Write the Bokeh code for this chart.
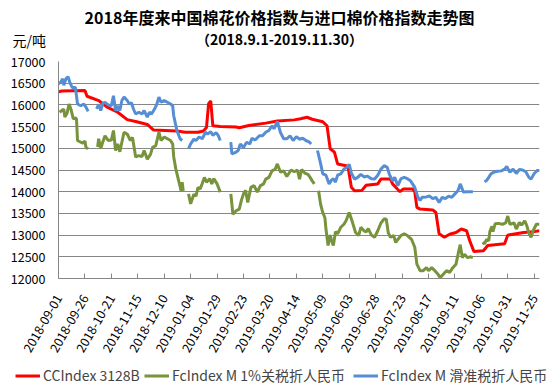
import math
from bokeh.plotting import figure
from bokeh.layouts import column
from bokeh.models import Range1d, Label, Legend, LegendItem, FixedTicker
from bokeh.embed import file_html
from bokeh.resources import INLINE

NaN = float("nan")

# x = days since 2018-09-01 (daily category axis)
tick_days = [0, 25, 50, 75, 100, 125, 150, 175, 200, 225, 250, 275, 300, 325, 350, 375, 400, 425, 450]
tick_labels = ["2018-09-01", "2018-09-26", "2018-10-21", "2018-11-15", "2018-12-10", "2019-01-04",
               "2019-01-29", "2019-02-23", "2019-03-20", "2019-04-14", "2019-05-09", "2019-06-03",
               "2019-06-28", "2019-07-23", "2019-08-17", "2019-09-11", "2019-10-06", "2019-10-31",
               "2019-11-25"]
y_ticks = [12000, 12500, 13000, 13500, 14000, 14500, 15000, 15500, 16000, 16500, 17000]

red_days = [0, 3, 25, 27, 38, 46, 56, 65, 74, 84, 90, 112, 120, 132, 137, 140, 142, 144, 146, 153,
            168, 171, 180, 196, 207, 223, 229, 235, 240, 250, 254, 257, 261, 264, 272, 274, 277, 280,
            287, 291, 302, 305, 314, 316, 321, 323, 326, 335, 337, 339, 342, 354, 357, 360, 365, 370,
            376, 381, 386, 389, 393, 402, 406, 422, 425, 427, 440, 450, 455]
red_vals = [16300, 16320, 16330, 16200, 16100, 15950, 15830, 15660, 15610, 15550, 15420, 15400, 15370,
            15370, 15400, 15480, 16030, 16090, 15520, 15500, 15490, 15475, 15525, 15580, 15630, 15655,
            15680, 15715, 15670, 15610, 15520, 14990, 14910, 14640, 14600, 14560, 14100, 14020, 14030,
            14150, 14180, 14290, 14290, 14180, 14050, 14000, 14060, 14060, 14000, 13640, 13600, 13580,
            13520, 13030, 12950, 13020, 13060, 13140, 13100, 12870, 12620, 12640, 12760, 12800, 13000,
            13010, 13060, 13080, 13100]

green_days = [1, 3, 5, 6, 8, 10, 12, 14, 16, 17, 18, 21, 23, 25, 26, 28, 32,
              37, 38, 40, 42, 44, 47, 50, 52, 54, 56, 58, 62, 65, 68, 70, 73, 76, 79, 81, 84, 87, 89,
              92, 95, 97, 100, 103, 106, 108, 109, 111, 114, 116, 117, 118, 120,
              123, 125, 128, 130, 132, 134, 136, 138, 140, 143, 145, 147, 150, 153, 158,
              163, 165, 168, 171, 173, 175, 177, 179, 182, 185, 188, 191, 194, 196, 199, 202, 205, 207,
              210, 213, 216, 220, 223, 226, 228, 230, 233, 236, 238, 240, 242, 244,
              246, 248, 250, 252, 253, 255, 257, 258, 260, 262, 264, 267, 270, 272, 275, 278, 281, 284,
              286, 289, 291, 293, 296, 299, 302, 305, 308, 310, 312, 314, 317, 319, 321, 324, 327, 330,
              334, 337, 339, 342, 345, 348, 350, 353, 356, 359, 361, 364, 367, 370, 373, 376, 378, 380,
              382, 384, 387, 390, 392, 396,
              401, 403, 405, 407, 408, 410, 411, 413, 416, 420, 423, 425, 427, 431, 433, 436, 438, 441,
              443, 445, 447, 449, 452, 455]
green_vals = [15830, 15870, 15900, 15720, 15800, 16020, 15880, 15680, 15700, 15680, 15180, 15140, 15120,
              15170, 15020, 14990, NaN,
              15030, 15220, 15000, 15150, 15290, 15180, 15190, 15410, 14950, 15100, 14920, 15370, 15330,
              15180, 15250, 14800, 14830, 14810, 14950, 14750, 14860, 15020, 15060, 15370, 15180, 15260,
              15220, 15180, 15100, 14800, 14520, 14220, 14020, 14220, 14020, NaN,
              13950, 13720, 13940, 13900, 14100, 14060, 14190, 14330, 14220, 14300, 14180, 14300, 14180,
              13990, NaN,
              13950, 13480, 13560, 13600, 13800, 13950, 14030, 13750, 14100, 14140, 13990, 14140, 14180,
              14290, 14330, 14480, 14520, 14640, 14450, 14480, 14350, 14500, 14460, 14500, 14290, 14510,
              14430, 14400, 14330, 14250, 14180, NaN,
              14020, 13700, 13520, 13400, 13140, 12760, 13000, 12900, 12760, 13080, 13030, 13180, 13250,
              13330, 13520, 13300, 13060, 12990, 13180, 13100, 13070, 13150, 13000, 12950, 13100, 13280,
              13370, 13370, 13050, 12950, 12990, 12830, 12900, 12990, 13030, 12990, 12900, 12720, 12330,
              12180, 12180, 12250, 12180, 12250, 12180, 12100, 12020, 12100, 12180, 12140, 12250, 12330,
              12560, 12780, 12480, 12560, 12480, 12500, 12480, NaN,
              12830, 12800, 12900, 12870, 13080, 13200, 13080, 13260, 13270, 13250, 13280, 13440, 13250,
              13280, 13140, 13290, 13230, 13330, 13220, 13040, 12950, 13100, 13250, 13250]

blue_days = [0, 2, 4, 5, 7, 9, 11, 13, 16, 18, 21, 24, 26, 28, 32,
             36, 38, 40, 42, 44, 47, 50, 52, 54, 56, 58, 60, 62, 65, 67, 69, 71, 73, 76, 79, 81, 84, 86,
             88, 91, 93, 95, 97, 100, 103, 106, 108, 109, 112, 115, 117, 120,
             123, 125, 128, 130, 133, 136, 139, 141, 144, 146, 149, 151, 153, 158,
             163, 164, 167, 170, 172, 175, 178, 181, 183, 186, 190, 193, 196, 199, 202, 204, 207, 210,
             213, 216, 219, 222, 225, 228, 231, 234, 237, 239, 242,
             245, 248, 250, 253, 256, 258, 260, 262, 264, 267, 270, 273, 275, 277, 280, 283, 286, 289,
             292, 296, 299, 302, 305, 308, 311, 313, 316, 318, 321, 324, 327, 330, 333, 337, 340, 342,
             344, 348, 351, 354, 357, 360, 363, 366, 369, 372, 375, 378, 380, 383, 386, 389, 392, 397,
             403, 405, 407, 409, 412, 415, 419, 422, 424, 427, 430, 433, 436, 439, 442, 445, 447, 450,
             453, 455]
blue_vals = [16490, 16520, 16600, 16450, 16600, 16650, 16500, 16400, 16400, 16020, 15980, 16020, 15950,
             15850, NaN,
             15910, 16010, 15870, 16040, 16060, 16000, 15980, 16210, 15870, 15980, 15870, 16100, 16180,
             16100, 16020, 16050, 15900, 15790, 15830, 15790, 15870, 15720, 15830, 15790, 15910, 16020,
             16180, 16060, 16100, 16060, 16020, 15980, 15750, 15410, 15220, 15180, NaN,
             14990, 15100, 15210, 15180, 15260, 15220, 15370, 15330, 15380, 15300, 15360, 15300, 15180,
             NaN,
             15140, 14870, 14900, 14950, 15100, 15020, 15140, 15100, 15230, 15190, 15290, 15290, 15370,
             15410, 15520, 15450, 15620, 15360, 15220, 15220, 15290, 15180, 15270, 15210, 15230, 15180,
             15150, 15100, NaN,
             14950, 14640, 14410, 14380, 14180, 14260, 14300, 14220, 14380, 14410, 14520, 14570, 14630,
             14430, 14290, 14330, 14400, 14340, 14360, 14300, 14290, 14380, 14520, 14600, 14560, 14400,
             14250, 14330, 14140, 14300, 14330, 14300, 14250, 14100, 13870, 13800, 13870, 13880, 13900,
             13840, 13870, 13750, 13870, 13840, 13900, 13870, 13950, 14030, 14180, 13990, 14000, 14000,
             14000, NaN,
             14230, 14260, 14330, 14410, 14450, 14470, 14480, 14520, 14580, 14450, 14520, 14420, 14510,
             14500, 14460, 14330, 14290, 14420, 14490, 14490]

title_text = "2018年度来中国棉花价格指数与进口棉价格指数走势图"
subtitle_text = "（2018.9.1-2019.11.30）"
unit_text = "元/吨"
series_names = ["CCIndex 3128B", "FcIndex M 1%关税折人民币", "FcIndex M 滑准税折人民币"]
series_colors = ["#FF0000", "#77933C", "#558ED5"]

FONT = "Noto Sans CJK SC"
W = 558


def blank(h):
    f = figure(width=W, height=h, output_backend="svg", toolbar_location=None,
               x_range=Range1d(0, W), y_range=Range1d(h, 0),
               x_axis_type=None, y_axis_type=None, min_border=0)
    f.outline_line_color = None
    f.xgrid.grid_line_color = None
    f.ygrid.grid_line_color = None
    f.frame_align = False
    return f


# ---- header (titles) ----
head = blank(52)
head.add_layout(Label(x=279, y=16, text=title_text, text_font=FONT, text_font_size="16px",
                      text_font_style="bold", text_align="center", text_baseline="middle",
                      text_color="#000000"))
head.add_layout(Label(x=279, y=38, text=subtitle_text, text_font=FONT, text_font_size="14px",
                      text_font_style="bold", text_align="center", text_baseline="middle",
                      text_color="#000000"))
head.add_layout(Label(x=12, y=39, text=unit_text, text_font=FONT, text_font_size="14px",
                      text_align="left", text_baseline="middle", text_color="#000000"))

# ---- main chart ----
p = figure(width=W, height=314, output_backend="svg", toolbar_location=None,
           x_range=Range1d(0, 455), y_range=Range1d(12000, 17000),
           min_border_left=58, min_border_right=19, min_border_top=9, min_border_bottom=88)
p.outline_line_color = None
p.frame_align = False

r_red = p.line(red_days, red_vals, line_color=series_colors[0], line_width=3)
r_green = p.line(green_days, green_vals, line_color=series_colors[1], line_width=3)
r_blue = p.line(blue_days, blue_vals, line_color=series_colors[2], line_width=3)

p.xaxis.ticker = FixedTicker(ticks=tick_days)
p.xaxis.major_label_overrides = {d: lab for d, lab in zip(tick_days, tick_labels)}
p.xaxis.major_label_orientation = math.pi / 3
p.xaxis.major_label_text_font = FONT
p.xaxis.major_label_text_font_size = "12.5px"
p.xaxis.major_label_text_color = "#000000"
p.xaxis.major_label_standoff = 17
p.xaxis.axis_line_color = "#868686"
p.xaxis.major_tick_line_color = "#868686"
p.xaxis.major_tick_in = 5
p.xaxis.major_tick_out = 0
p.xaxis.minor_tick_line_color = None

p.yaxis.ticker = FixedTicker(ticks=y_ticks)
p.yaxis.major_label_text_font = FONT
p.yaxis.major_label_text_font_size = "12.5px"
p.yaxis.major_label_text_color = "#000000"
p.yaxis.major_label_standoff = 13
p.yaxis.axis_line_color = "#868686"
p.yaxis.major_tick_line_color = None
p.yaxis.major_tick_in = 0
p.yaxis.major_tick_out = 0
p.yaxis.minor_tick_line_color = None

p.xgrid.grid_line_color = None
p.ygrid.grid_line_color = "#868686"
p.ygrid.grid_line_width = 1

# ---- footer (legend) ----
foot = blank(20)
legend_x = [15, 144, 353]
for name, color, lx in zip(series_names, series_colors, legend_x):
    proxy = foot.line(x=[-20, -10], y=[-20, -20], line_color=color, line_width=3)
    foot.add_layout(Legend(items=[LegendItem(label=name, renderers=[proxy])],
                           orientation="horizontal", location=(lx, 1),
                           label_text_font=FONT, label_text_font_size="14px",
                           label_height=15, glyph_height=15,
                           glyph_width=25, label_standoff=3, spacing=0, padding=0, margin=0,
                           border_line_alpha=0, background_fill_alpha=0), "center")

layout = column(head, p, foot, spacing=0)
open("out.html", "w").write(file_html(layout, INLINE))
